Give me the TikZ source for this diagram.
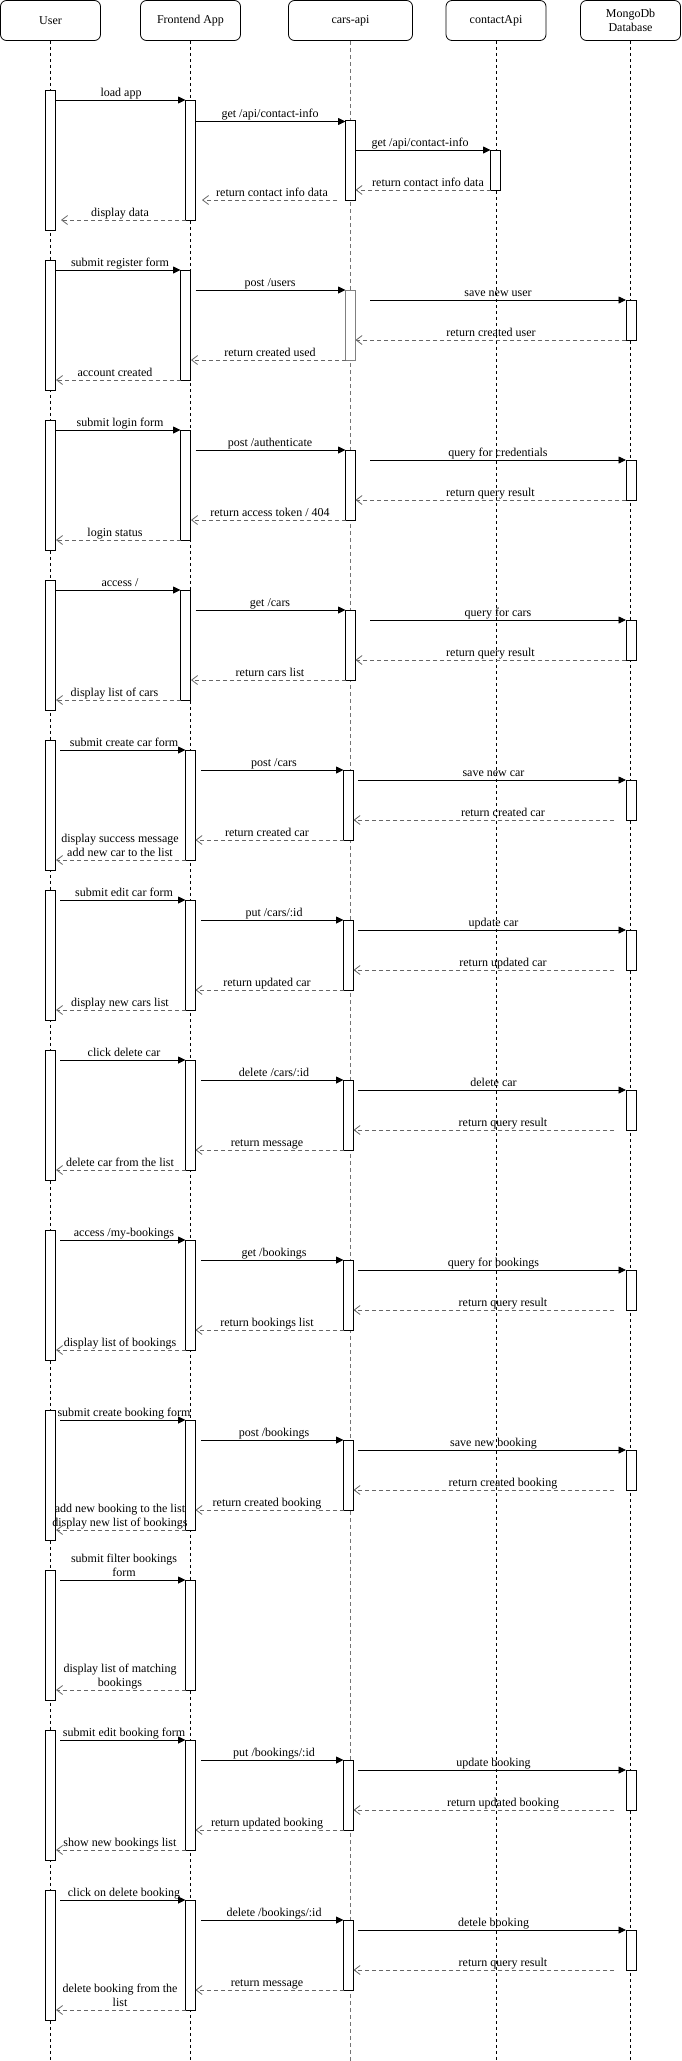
\documentclass[tikz,border=0pt]{standalone}
\usepackage{fontspec}
\setmainfont{Liberation Serif}
\usetikzlibrary{arrows.meta}
\tikzset{
  hdr/.style={draw, rounded corners=6pt, minimum width=100pt, minimum height=40pt,
    font=\fontsize{12}{14.4}\selectfont, align=center, inner sep=0pt, line width=0.8pt},
  life/.style={dash pattern=on 3pt off 3pt, line width=0.8pt},
  actbar/.style={draw, fill=white, minimum width=10pt, inner sep=0pt, line width=0.8pt, anchor=north},
  call/.style={-{Triangle[length=7.5pt,width=7pt]}, line width=0.8pt},
  ret/.style={-{Straight Barb[length=6pt,width=9pt]}, dash pattern=on 4pt off 3pt,
    draw=black!60, line width=0.8pt},
  lbl/.style={font=\fontsize{12}{13.5}\selectfont, align=center, anchor=south,
    inner sep=1pt, text depth=2.7pt},
}
% name, x, ytop, height
\newcommand\mkact[4]{\node[actbar, minimum height=#4pt] (#1) at (#2,#3) {};}
% name, x1, x2, y, label x, label, style
\newcommand\msg[7]{%
  \coordinate (#1a) at (#2,#4);
  \coordinate (#1b) at (#3,#4);
  \draw[#7] (#1a) -- (#1b);
  \node[lbl] (#1t) at (#5,#4) {#6};}
% standard group: id, y0, six labels
\newcommand\stdgroup[8]{%
  \mkact{#1u}{50.5}{#2}{130}
  \mkact{#1f}{190.5}{#2+10}{110}
  \mkact{#1c}{348.5}{#2+30}{70}
  \mkact{#1d}{631}{#2+40}{40}
  \msg{#1m1}{60}{185.5}{#2+10}{124}{#3}{call}
  \msg{#1m2}{201}{343.5}{#2+30}{274}{#4}{call}
  \msg{#1m3}{357.8}{626}{#2+40}{493.5}{#5}{call}
  \msg{#1m4}{614}{353.5}{#2+80}{503}{#6}{ret}
  \msg{#1m5}{343.5}{195.5}{#2+100}{267}{#7}{ret}
  \msg{#1m6}{185.5}{56}{#2+120}{120}{#8}{ret}}
\begin{document}
\begin{tikzpicture}[x=1pt, y=-1pt]
\useasboundingbox (0,0) rectangle (681,2061);
% headers
\node[hdr] (hu) at (50.5,20.5) {User};
\node[hdr] (hf) at (190.5,20.5) {Frontend App};
\node[hdr, minimum width=124pt] (hc) at (350.5,20.5) {cars-api};
\node[hdr] (hk) at (496,20.5) {contactApi};
\node[hdr] (hd) at (630.5,20.5) {MongoDb\\Database};
% lifelines
\coordinate (eu) at (50.5,2061);
\coordinate (ef) at (190.5,2061);
\coordinate (ec) at (350.5,2061);
\coordinate (ek) at (496,2061);
\coordinate (ed) at (630.5,2061);
\draw[life] (hu.south) -- (eu);
\draw[life] (hf.south) -- (ef);
\draw[life, draw=black!55, dash pattern=on 4pt off 3pt] (hc.south) -- (ec);
\draw[life] (hk.south) -- (ek);
\draw[life] (hd.south) -- (ed);
% group 1
\mkact{u1}{50.5}{90}{140}
\mkact{f1}{190.5}{100}{120}
\mkact{c1}{350.5}{120}{80}
\mkact{k1}{495.5}{150}{40}
\msg{g1a}{55.5}{185.5}{100}{121}{load app}{call}
\msg{g1b}{195.5}{345.5}{121.5}{270}{get /api/contact-info}{call}
\msg{g1c}{355.5}{490.5}{150}{420}{get /api/contact-info}{call}
\msg{g1d}{490.5}{355.5}{190}{428}{return contact info data}{ret}
\msg{g1e}{337}{202}{200}{272}{return contact info data}{ret}
\msg{g1f}{185.5}{61}{220}{120}{display data}{ret}
% group 2
\mkact{u2}{50.5}{260}{130}
\mkact{f2}{185.5}{270}{110}
\node[actbar, draw=black!50, minimum height=70pt] (c2) at (350.5,290) {};
\mkact{d2}{631}{300}{40}
\msg{g2a}{55.5}{180.5}{270}{120}{submit register form}{call}
\msg{g2b}{195.5}{345.5}{290}{270}{post /users}{call}
\msg{g2c}{370}{626}{300}{498}{save new user}{call}
\msg{g2d}{626}{355.5}{340}{491}{return created user}{ret}
\msg{g2e}{345.5}{191}{360}{270}{return created used}{ret}
\msg{g2f}{180.5}{56}{380}{115}{account created}{ret}
% group 3
\mkact{u3}{50.5}{420}{130}
\mkact{f3}{185.5}{430}{110}
\mkact{c3}{350.5}{450}{70}
\mkact{d3}{631}{460}{40}
\msg{g3a}{55.5}{180.5}{430}{120}{submit login form}{call}
\msg{g3b}{195.5}{345.5}{450}{270}{post /authenticate}{call}
\msg{g3c}{370}{626}{460}{498}{query for credentials}{call}
\msg{g3d}{626}{355.5}{500}{490.5}{return query result}{ret}
\msg{g3e}{345.5}{191}{520}{270}{return access token / 404}{ret}
\msg{g3f}{180.5}{56}{540}{115}{login status}{ret}
% group 4
\mkact{u4}{50.5}{580}{130}
\mkact{f4}{185.5}{590}{110}
\mkact{c4}{350.5}{610}{70}
\mkact{d4}{631}{620}{40}
\msg{g4a}{55.5}{180.5}{590}{120}{access /}{call}
\msg{g4b}{195.5}{345.5}{610}{270}{get /cars}{call}
\msg{g4c}{370}{626}{620}{498}{query for cars}{call}
\msg{g4d}{626}{355.5}{660}{490.5}{return query result}{ret}
\msg{g4e}{345.5}{191}{680}{270}{return cars list}{ret}
\msg{g4f}{180.5}{56}{700}{114.5}{display list of cars}{ret}
% groups 5-9
\stdgroup{g5}{740}{submit create car form}{post /cars}{save new car}{return created car}{return created car}{display success message\\add new car to the list}
\stdgroup{g6}{890}{submit edit car form}{put /cars/:id}{update car}{return updated car}{return updated car}{display new cars list}
\stdgroup{g7}{1050}{click delete car}{delete /cars/:id}{delete car}{return query result}{return message}{delete car from the list}
\stdgroup{g8}{1230}{access /my-bookings}{get /bookings}{query for bookings}{return query result}{return bookings list}{display list of bookings}
\stdgroup{g9}{1410}{submit create booking form}{post /bookings}{save new booking}{return created booking}{return created booking}{add new booking to the list\\display new list of bookings}
% group 10
\mkact{g10u}{50.5}{1570}{130}
\mkact{g10f}{190.5}{1580}{110}
\msg{g10a}{60}{185.5}{1580}{124}{submit filter bookings\\form}{call}
\msg{g10b}{185.5}{56}{1690}{120}{display list of matching\\bookings}{ret}
% groups 11-12
\stdgroup{g11}{1730}{submit edit booking form}{put /bookings/:id}{update booking}{return updated booking}{return updated booking}{show new bookings list}
\stdgroup{g12}{1890}{click on delete booking}{delete /bookings/:id}{detele booking}{return query result}{return message}{delete booking from the\\list}
\end{tikzpicture}
\end{document}
